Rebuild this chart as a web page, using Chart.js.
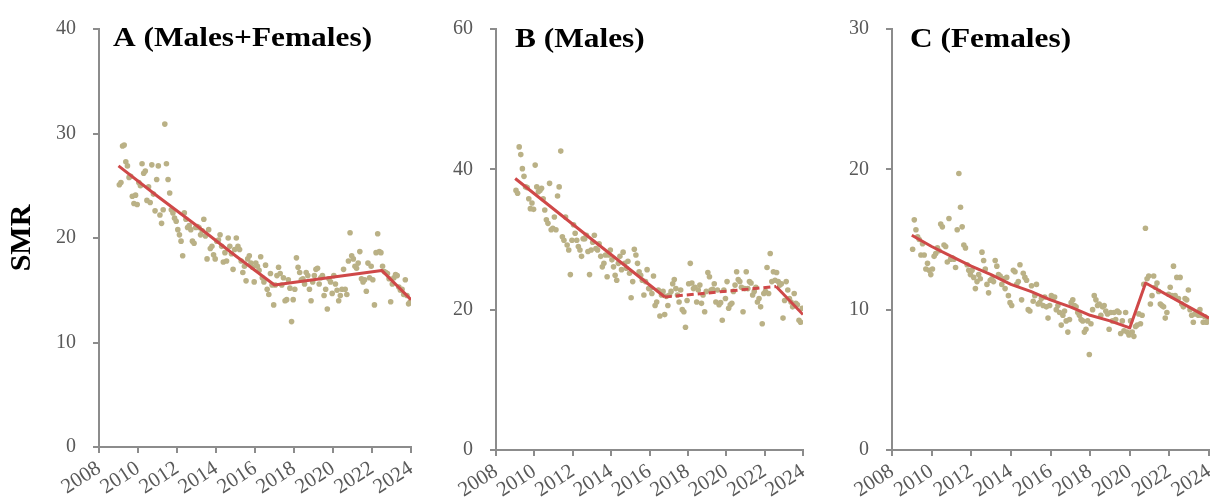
<!DOCTYPE html>
<html>
<head>
<meta charset="utf-8">
<script src="https://cdn.jsdelivr.net/npm/chart.js@4.4.1/dist/chart.umd.min.js"></script>
<style>
  html, body { margin: 0; padding: 0; background: #fff; overflow: hidden; }
  #wrap { position: relative; width: 1210px; height: 497px; overflow: hidden; }
  #wrap canvas { position: absolute; top: 0; }
</style>
</head>
<body>
<div id="wrap">
  <canvas id="panelA" width="440" height="497" style="left:0px"></canvas>
  <canvas id="panelB" width="420" height="497" style="left:420px"></canvas>
  <canvas id="panelC" width="420" height="497" style="left:820px"></canvas>
</div>
<script>
// monthly SMR, Jan 2009 - Dec 2023 (one row per year)
const smrBoth = [
  25.1, 25.3, 28.8, 28.9, 27.3, 26.9, 25.8, 25.9, 24.0, 23.3, 24.1, 23.2,
  25.3, 25.0, 27.1, 26.2, 26.4, 23.6, 24.9, 23.4, 27.0, 24.2, 22.6, 25.6,
  26.9, 22.2, 21.4, 22.7, 30.9, 27.1, 25.6, 24.3, 22.7, 22.4, 21.9, 21.6,
  20.8, 20.3, 19.7, 18.3, 22.4, 21.8, 21.0, 21.2, 20.8, 19.7, 19.5, 21.0,
  21.1, 21.0, 20.3, 20.7, 21.8, 20.2, 18.0, 20.8, 19.0, 19.2, 18.4, 18.0,
  19.7, 19.8, 20.3, 19.2, 17.7, 18.6, 17.8, 20.0, 19.2, 18.5, 17.0, 18.9,
  20.0, 19.2, 18.9, 17.8, 16.7, 17.3, 15.9, 18.0, 18.3, 17.6, 17.2, 15.8,
  17.6, 17.3, 16.9, 18.2, 16.2, 15.8, 17.4, 15.1, 14.6, 16.6, 15.5, 13.6,
  15.5, 16.4, 17.2, 16.6, 15.5, 16.2, 14.0, 14.1, 16.0, 15.2, 12.0, 14.1,
  15.1, 18.1, 17.2, 16.7, 16.0, 16.1, 15.6, 16.7, 16.4, 15.1, 14.0, 15.8,
  16.4, 17.0, 17.1, 15.6, 16.2, 16.4, 14.5, 15.1, 13.2, 16.1, 15.8, 14.7,
  16.4, 15.6, 15.0, 14.0, 14.5, 15.1, 17.0, 15.1, 14.6, 17.8, 20.5, 18.3,
  18.0, 17.3, 17.1, 17.6, 18.7, 16.1, 15.8, 16.0, 14.9, 17.6, 16.2, 17.3,
  16.0, 13.6, 18.6, 20.4, 18.7, 18.6, 17.3, 16.8, 16.7, 16.6, 16.1, 13.9,
  15.6, 16.2, 16.5, 16.4, 15.3, 15.0, 15.1, 14.6, 16.0, 14.5, 13.7, 13.9
];

const smrMales = [
  37.0, 36.6, 43.2, 42.1, 40.1, 39.0, 37.5, 37.4, 35.8, 34.4, 35.2, 34.3,
  40.6, 37.5, 36.8, 37.0, 37.3, 35.8, 34.2, 32.8, 32.3, 38.0, 31.4, 31.6,
  33.2, 31.4, 36.2, 37.5, 42.6, 30.4, 29.9, 33.2, 29.2, 28.5, 25.0, 29.9,
  32.1, 30.9, 29.9, 29.0, 28.5, 27.6, 30.1, 30.1, 30.6, 28.3, 25.0, 28.5,
  29.6, 30.6, 28.7, 28.5, 29.4, 27.6, 26.1, 26.6, 27.8, 24.7, 27.8, 28.5,
  27.1, 26.1, 24.9, 24.2, 26.6, 27.6, 25.7, 28.2, 26.6, 25.9, 26.9, 25.2,
  21.7, 24.0, 28.6, 27.8, 26.6, 25.4, 24.9, 24.2, 22.1, 24.0, 25.7, 23.0,
  23.0, 22.3, 24.8, 20.6, 21.1, 22.8, 19.1, 22.1, 22.6, 19.3, 21.9, 20.6,
  22.1, 22.6, 23.7, 24.3, 23.0, 22.1, 21.1, 22.8, 20.0, 19.7, 17.5, 21.3,
  23.7, 26.6, 23.8, 23.0, 23.2, 21.1, 22.8, 23.5, 20.9, 22.1, 19.7, 22.6,
  25.3, 24.7, 22.8, 22.9, 23.7, 21.1, 22.8, 20.7, 21.0, 18.5, 22.8, 21.6,
  24.0, 20.2, 20.7, 20.9, 22.6, 23.5, 25.4, 24.3, 24.0, 23.2, 19.7, 23.0,
  25.4, 23.0, 24.0, 23.8, 22.1, 22.6, 23.2, 21.1, 21.6, 20.4, 18.0, 22.3,
  22.6, 26.0, 22.3, 28.0, 24.0, 25.4, 24.2, 25.3, 24.0, 23.5, 23.7, 18.8,
  21.3, 24.0, 22.8, 21.6, 21.1, 20.4, 22.3, 20.9, 20.7, 18.5, 18.2, 20.2
];

const smrFemales = [
  14.3, 16.4, 15.7, 15.2, 15.0, 13.9, 14.7, 13.9, 12.9, 13.3, 12.8, 12.5,
  12.9, 13.8, 14.0, 14.4, 14.2, 16.1, 15.9, 14.6, 14.5, 13.4, 16.5, 13.6,
  13.7, 13.6, 13.0, 15.7, 19.7, 17.3, 15.9, 14.6, 14.4, 13.2, 12.8, 12.5,
  12.8, 12.3, 11.5, 12.0, 12.5, 12.2, 14.1, 13.5, 12.9, 11.8, 11.2, 12.1,
  12.2, 12.0, 13.5, 13.1, 12.5, 12.4, 11.8, 12.2, 11.5, 12.3, 11.0, 10.5,
  10.3, 12.8, 12.7, 11.8, 12.0, 13.2, 10.7, 12.6, 12.3, 12.1, 10.0, 9.9,
  11.7, 10.6, 11.0, 11.8, 10.4, 10.5, 10.8, 10.3, 10.9, 10.2, 9.4, 10.3,
  11.0, 10.8, 10.9, 10.0, 10.3, 9.8, 8.9, 9.6, 9.9, 9.2, 8.4, 9.3,
  10.5, 10.7, 10.3, 10.2, 9.8, 9.6, 9.3, 9.2, 8.4, 8.6, 9.2, 6.8,
  9.0, 10.0, 11.0, 10.7, 10.3, 10.4, 9.6, 10.2, 10.3, 9.9, 9.7, 8.6,
  9.8, 9.2, 9.8, 9.3, 9.9, 9.8, 8.3, 9.2, 8.5, 9.8, 8.4, 8.2,
  9.2, 8.4, 8.1, 8.8, 8.9, 9.7, 9.0, 9.6, 11.8, 15.8, 12.2, 12.4,
  10.4, 11.0, 12.4, 11.6, 11.9, 11.3, 10.4, 10.3, 10.2, 9.4, 9.8, 11.1,
  11.6, 11.0, 13.1, 11.0, 12.3, 10.8, 12.3, 10.4, 10.2, 10.8, 10.7, 11.4,
  10.0, 9.6, 9.1, 9.7, 9.8, 9.6, 10.0, 9.6, 9.1, 9.5, 9.1, 9.3
];

// joinpoint fits
const trendYearsA = [2009, 2011, 2013, 2015, 2017, 2022.5, 2024];
const trendA      = [26.9, 24.0, 21.2, 18.3, 15.5, 16.9, 14.1];
const trendYearsB = [2009, 2013, 2016.8, 2022.6, 2024];
const trendB      = [38.7, 30.0, 21.8, 23.3, 19.3];
const dashedB     = [2016.8, 2022.6];   // non-significant segment
const trendYearsC = [2009, 2010, 2011, 2012, 2013, 2014, 2015, 2016, 2017, 2018, 2019, 2020, 2020.8, 2024];
const trendC      = [15.3, 14.5, 13.8, 13.1, 12.5, 11.8, 11.3, 10.7, 10.2, 9.6, 9.2, 8.7, 11.9, 9.4];

const yearTicks = [2008, 2024, 2];
const SERIF = '"Liberation Serif", "Times New Roman", serif';
const AXIS = '#8c8c8c';
const TICK_TEXT = '#595959';

Chart.defaults.font.family = SERIF;

const panelTitle = {
  id: 'panelTitle',
  afterDraw(chart, args, opts) {
    const { ctx, chartArea } = chart;
    ctx.save();
    ctx.font = 'bold 28px ' + SERIF;
    ctx.fillStyle = '#000';
    ctx.textBaseline = 'alphabetic';
    ctx.translate(chartArea.left + opts.dx, opts.baseline);
    ctx.scale(1.12, 1);
    ctx.fillText(opts.text, 0, 0);
    ctx.restore();
  }
};

function monthly(values) {
  return values.map((v, i) => ({ x: 2009 + (i + 0.5) / 12, y: v }));
}

function makePanel(id, cfg) {
  const trendPts = cfg.trendYears.map((yr, i) => ({ x: yr, y: cfg.trend[i] }));
  const dash = cfg.dashed;
  new Chart(document.getElementById(id), {
    type: 'scatter',
    data: {
      datasets: [
        {
          type: 'line',
          data: trendPts,
          borderColor: '#cf4848',
          borderWidth: 3,
          pointRadius: 0,
          borderJoinStyle: 'round',
          tension: 0,
          segment: {
            borderDash: c => (dash && c.p0.parsed.x >= dash[0] && c.p1.parsed.x <= dash[1]) ? [7, 4] : undefined
          }
        },
        {
          data: monthly(cfg.values),
          pointRadius: 2.8,
          pointBackgroundColor: 'rgb(186,177,134)',
          pointBorderWidth: 0
        }
      ]
    },
    options: {
      responsive: false,
      animation: false,
      layout: { padding: { top: cfg.top, right: cfg.padRight, left: 0, bottom: 0 } },
      plugins: {
        legend: { display: false },
        tooltip: { enabled: false },
        panelTitle: { text: cfg.title, dx: cfg.titleDx, baseline: cfg.titleBase }
      },
      scales: {
        x: {
          type: 'linear',
          min: yearTicks[0],
          max: yearTicks[1],
          ticks: {
            stepSize: yearTicks[2],
            autoSkip: false,
            minRotation: 33,
            maxRotation: 33,
            padding: 3,
            color: TICK_TEXT,
            font: { size: 21 },
            callback: v => String(v)
          },
          grid: { drawOnChartArea: false, drawTicks: true, tickLength: 6, tickColor: AXIS, tickWidth: 2, color: AXIS, lineWidth: 2 },
          border: { color: AXIS, width: 2 },
          afterFit(s) { s.height = cfg.xHeight; }
        },
        y: {
          min: 0,
          max: cfg.yMax,
          ticks: {
            stepSize: cfg.yStep,
            padding: 17,
            color: TICK_TEXT,
            font: { size: 20 }
          },
          title: {
            display: !!cfg.yTitle,
            text: cfg.yTitle || '',
            color: '#000',
            font: { size: 30, weight: 'bold' },
            padding: { top: 4, bottom: 0 }
          },
          grid: { drawOnChartArea: false, drawTicks: true, tickLength: 6, tickColor: AXIS, tickWidth: 2, color: AXIS, lineWidth: 2 },
          border: { color: AXIS, width: 2 },
          afterFit(s) { s.width = cfg.yWidth; }
        }
      }
    },
    plugins: [panelTitle]
  });
}

makePanel('panelA', {
  title: 'A (Males+Females)', titleDx: 14, titleBase: 46,
  values: smrBoth, trendYears: trendYearsA, trend: trendA,
  yMax: 40, yStep: 10, yTitle: 'SMR',
  yWidth: 99, xHeight: 50, top: 23, padRight: 29
});

makePanel('panelB', {
  title: 'B (Males)', titleDx: 19, titleBase: 47,
  values: smrMales, trendYears: trendYearsB, trend: trendB, dashed: dashedB,
  yMax: 60, yStep: 20,
  yWidth: 76, xHeight: 47, top: 28, padRight: 37
});

makePanel('panelC', {
  title: 'C (Females)', titleDx: 18, titleBase: 47,
  values: smrFemales, trendYears: trendYearsC, trend: trendC,
  yMax: 30, yStep: 10,
  yWidth: 72, xHeight: 47, top: 28, padRight: 31
});
</script>
</body>
</html>
